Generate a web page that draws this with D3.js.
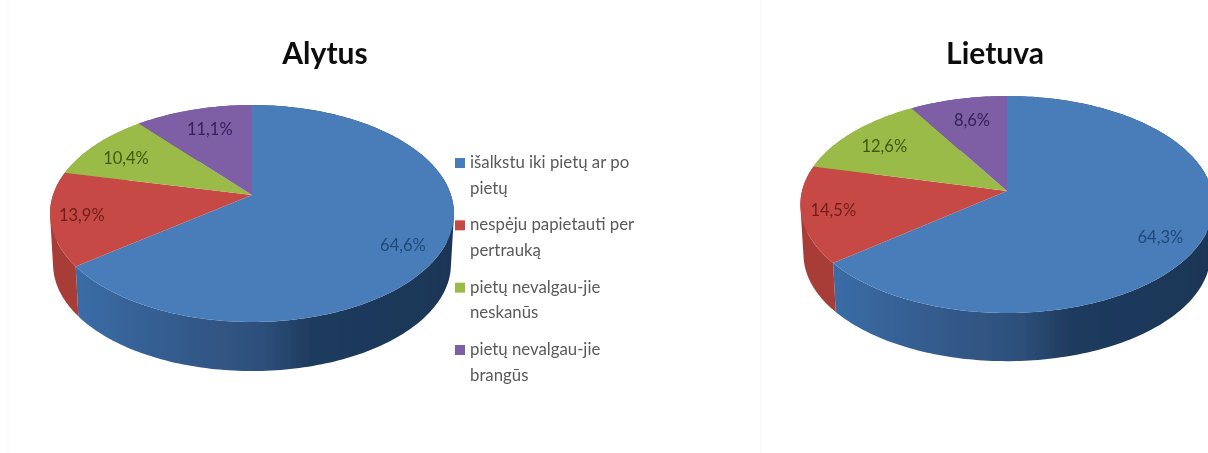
<!DOCTYPE html>
<html>
<head>
<meta charset="utf-8">
<script src="https://cdn.jsdelivr.net/npm/d3@7"></script>
<style>
  html, body { margin: 0; background: #fff; }
  svg { display: block; }
  text { font-family: Lato, "Open Sans", sans-serif; }
  .title { font-size: 30px; font-weight: 700; fill: #111; text-anchor: middle; }
  .label { font-size: 16.5px; text-anchor: middle; dominant-baseline: middle; }
  .legend { font-size: 16.8px; fill: #5a5a5a; }
</style>
</head>
<body>
<svg id="chart" width="1208" height="453"></svg>
<script>
// ---------- Data ----------
const categories = [
  ["išalkstu iki pietų ar po", "pietų"],
  ["nespėju papietauti per", "pertrauką"],
  ["pietų nevalgau-jie", "neskanūs"],
  ["pietų nevalgau-jie", "brangūs"]
];
const alytusValues = [64.6, 13.9, 10.4, 11.1];
const lietuvaValues = [64.3, 14.5, 12.6, 8.6];
const colors = ["#4a7dba", "#c74a45", "#9bbb48", "#7e5fa5"];
const labelColors = ["#1f4a78", "#6e1f1c", "#3d5a12", "#35205a"];
const sideColors = ["#2f5a8c", "#a83d39", "#7f9a3a", "#654a88"];

// ---------- Layout ----------
const svg = d3.select("#chart");
const W = 1208, H = 453;
const pies = [
  { title: "Alytus", values: alytusValues, titleX: 325, cx: 252, cy: 195, rx: 199, a: 105.3, k: 0.1705,
    depth: 51, nudge: [[-1, 12], [-10, 3], [1, 6], [6, 6]] },
  { title: "Lietuva", values: lietuvaValues, titleX: 995, cx: 1007, cy: 191, rx: 205, a: 106.8, k: 0.1245,
    depth: 50, nudge: [[-1, 9], [-10, 2], [2, 5], [5, 6]] }
];

// faint page edges of the source slide
svg.selectAll(".edge").data([8, 761]).join("line")
  .attr("class", "edge")
  .attr("x1", d => d).attr("x2", d => d)
  .attr("y1", 0).attr("y2", H)
  .attr("stroke", "#f6f6f6");

const defs = svg.append("defs");
defs.append("filter").attr("id", "soft")
  .append("feGaussianBlur").attr("stdDeviation", 0.5);

const wallGrad = defs.append("linearGradient").attr("id", "wallBlue");
[[0, "#3a6ca6"], [0.3, "#33598a"], [0.5, "#2d4f7a"], [0.62, "#1f3b5e"], [1, "#1b3656"]].forEach(([o, c]) =>
  wallGrad.append("stop").attr("offset", o).attr("stop-color", c));

const pieGen = d3.pie().sort(null).value(d => d);
const lineGen = d3.line();
const g = svg.append("g").attr("filter", "url(#soft)");

// circle -> tilted disc, near side bigger (perspective)
function projector(p) {
  return (angle, r = 1, dy = 0, s = 1) => {
    const X = Math.sin(angle) * r, Y = -Math.cos(angle) * r;
    const w = 1 - p.k * Y;
    return [p.cx + s * p.rx * X / w, p.cy + dy + s * p.a * Y / w];
  };
}

function angleSteps(a0, a1) {
  const n = Math.max(2, Math.ceil((a1 - a0) / 0.02));
  return d3.range(n + 1).map(i => a0 + (a1 - a0) * i / n);
}

function drawPie(p) {
  const project = projector(p);
  const slices = pieGen(p.values);
  const layer = g.append("g");

  // side walls first, the top covers whatever is hidden.
  // built from small quads with one winding so the silhouette stays solid at the tangent points
  slices.forEach((s, i) => {
    const steps = angleSteps(s.startAngle, s.endAngle);
    const quads = d3.pairs(steps).map(([a, b]) => {
      const q = [project(a), project(b), project(b, 1, p.depth, 0.985), project(a, 1, p.depth, 0.985)];
      return lineGen(d3.polygonArea(q) < 0 ? q.reverse() : q) + "Z";
    });
    layer.append("path")
      .attr("d", quads.join(""))
      .attr("fill", i === 0 ? "url(#wallBlue)" : sideColors[i]);
  });

  // top face
  slices.forEach((s, i) => {
    const rim = angleSteps(s.startAngle, s.endAngle).map(a => project(a));
    layer.append("path")
      .attr("d", lineGen([[p.cx, p.cy]].concat(rim)) + "Z")
      .attr("fill", colors[i]);
  });

  // data labels
  slices.forEach((s, i) => {
    const [x, y] = project((s.startAngle + s.endAngle) / 2, 0.8);
    layer.append("text").attr("class", "label")
      .attr("x", x + p.nudge[i][0])
      .attr("y", y + p.nudge[i][1])
      .attr("fill", labelColors[i])
      .text(d3.format(".1f")(s.value).replace(".", ",") + "%");
  });

  layer.append("text").attr("class", "title")
    .attr("x", p.titleX).attr("y", 64).text(p.title);
}

pies.forEach(drawPie);

// ---------- Legend ----------
const legendY = d3.scalePoint().domain(d3.range(categories.length)).range([163, 350]);
const legend = g.append("g");
categories.forEach((lines, i) => {
  legend.append("rect")
    .attr("x", 455).attr("y", legendY(i) - 5)
    .attr("width", 10).attr("height", 10)
    .attr("fill", colors[i]);
  lines.forEach((t, j) => {
    legend.append("text").attr("class", "legend")
      .attr("x", 470).attr("y", legendY(i) + 5 + j * 25.5)
      .text(t);
  });
});
</script>
</body>
</html>
